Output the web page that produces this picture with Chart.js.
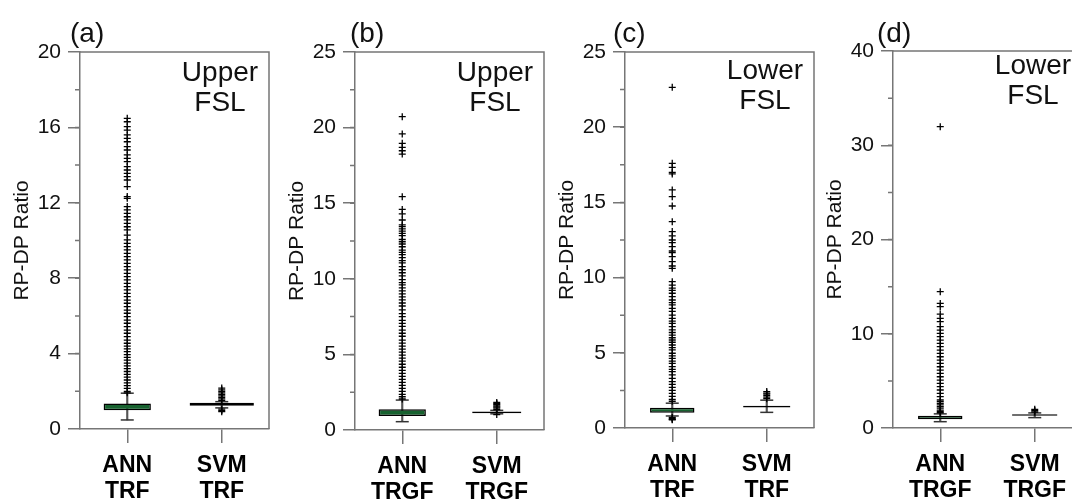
<!DOCTYPE html>
<html>
<head>
<meta charset="utf-8">
<script src="https://cdn.jsdelivr.net/npm/chart.js@4.4.0/dist/chart.umd.min.js"></script>
<style>
html, body { margin: 0; padding: 0; background: #fff; }
body { width: 1072px; height: 499px; overflow: hidden; position: relative; font-family: 'Liberation Sans', Arial, sans-serif; }
.panel { position: absolute; top: 0; width: 270px; height: 499px; }
.panel canvas { position: absolute; left: 0; top: 0; }
.tag { position: absolute; top: 18px; font-size: 28px; line-height: 30px; color: #111; }
.region { position: absolute; left: 160px; width: 120px; text-align: center; font-size: 28px; line-height: 30px; color: #111; }
</style>
</head>
<body>
<div id="panels"></div>
<script>
// panel texts
const panelTags = ['(a)', '(b)', '(c)', '(d)'];
const regionText = [['Upper', 'FSL'], ['Upper', 'FSL'], ['Lower', 'FSL'], ['Lower', 'FSL']];
const categories = [
    [['ANN', 'TRF'], ['SVM', 'TRF']],
    [['ANN', 'TRGF'], ['SVM', 'TRGF']],
    [['ANN', 'TRF'], ['SVM', 'TRF']],
    [['ANN', 'TRGF'], ['SVM', 'TRGF']]
];

// y axes
const yMax = [20, 25, 25, 40];
const yMajor = [4, 5, 5, 10];
const yMinor = [2, 2.5, 2.5, 5];

// boxes [ANN, SVM]
const boxLow = [[1.0, 1.24], [0.93, 1.1], [1.02, 1.36], [0.92, 1.3]];
const boxHigh = [[1.35, 1.39], [1.37, 1.22], [1.35, 1.48], [1.3, 1.46]];
const whiskerLow = [[0.48, 1.12], [0.55, 1.07], [0.8, 1.04], [0.67, 1.1]];
const whiskerHigh = [[1.9, 1.45], [1.98, 1.3], [1.65, 1.85], [1.5, 1.6]];

// outliers
const outA_ANN = [16.48, 16.3, 16.04, 15.86, 15.6, 15.42, 15.24, 14.98, 14.8, 14.54, 14.36, 14.18, 13.92, 13.74,
    13.56, 13.39, 13.21, 12.86, 12.33, 12.24, 11.8, 11.62, 11.44, 11.26, 11.09, 10.91, 10.73, 10.56, 10.29, 10.03,
    9.85, 9.67, 9.5, 9.32, 9.14, 8.97, 8.79, 8.61, 8.44, 8.26, 8.08, 7.91, 7.73, 7.55, 7.38, 7.2, 7.02, 6.84, 6.67,
    6.49, 6.31, 6.14, 5.96, 5.78, 5.61, 5.43, 5.25, 5.08, 4.9, 4.72, 4.55, 4.4, 4.25, 4.1, 3.95, 3.8, 3.65, 3.5,
    3.35, 3.2, 3.05, 2.9, 2.75, 2.6, 2.45, 2.3, 2.15, 2.0, 1.92];
const outA_SVM = [1.52, 1.6, 1.68, 1.76, 1.84, 1.92, 2.0, 2.08, 2.17, 1.05, 0.98, 0.92];
const outB_ANN = [20.72, 19.58, 18.96, 18.69, 18.47, 18.25, 15.43, 14.59, 14.29, 13.89, 13.56, 13.45, 13.3, 13.15,
    13.0, 12.85, 12.6, 12.45, 12.3, 12.12, 11.9, 11.75, 11.6, 11.4, 11.2, 11.05, 10.8, 10.6, 10.4, 10.2, 9.95, 9.75,
    9.6, 9.4, 9.2, 9.0, 8.8, 8.6, 8.4, 8.2, 7.95, 7.7, 7.5, 7.25, 7.05, 6.85, 6.6, 6.4, 6.2, 5.95, 5.75, 5.55, 5.35,
    5.15, 4.95, 4.75, 4.55, 4.35, 4.15, 3.95, 3.75, 3.55, 3.35, 3.15, 2.95, 2.75, 2.55, 2.35, 2.2, 2.05];
const outB_SVM = [1.35, 1.45, 1.52, 1.6, 1.68, 1.75, 1.82, 1.02];
const outC_ANN = [22.65, 17.6, 17.33, 17.0, 16.89, 15.83, 15.38, 14.76, 13.72, 13.06, 12.77, 12.5, 12.33, 12.06,
    11.77, 11.66, 11.39, 11.06, 10.77, 10.62, 9.73, 9.5, 9.3, 9.15, 8.96, 8.73, 8.51, 8.34, 8.18, 7.96, 7.75, 7.5,
    7.29, 7.1, 6.96, 6.74, 6.52, 6.35, 6.18, 6.0, 5.85, 5.7, 5.52, 5.35, 5.19, 4.97, 4.8, 4.63, 4.45, 4.3, 4.08, 3.9,
    3.75, 3.53, 3.3, 3.08, 2.9, 2.7, 2.5, 2.3, 2.1, 1.9, 1.78, 0.7, 0.64, 0.58, 0.55];
const outC_SVM = [1.95, 2.05, 2.15, 2.25, 2.32, 2.42];
const outD_ANN = [31.97, 14.46, 13.22, 12.87, 12.09, 11.63, 11.28, 10.75, 10.39, 10.04, 9.69, 9.33, 8.98, 8.63,
    8.27, 7.92, 7.56, 7.21, 6.86, 6.5, 6.15, 5.8, 5.44, 5.09, 4.73, 4.38, 4.03, 3.67, 3.32, 2.97, 2.8, 2.61, 2.45,
    2.26, 2.1, 1.9, 1.75, 1.62];
const outD_SVM = [1.7, 1.85, 1.98];
const outliersANN = [outA_ANN, outB_ANN, outC_ANN, outD_ANN];
const outliersSVM = [outA_SVM, outB_SVM, outC_SVM, outD_SVM];

// layout
const panelLeft = [0, 275, 545, 813];
const plotTop = [52, 52, 52, 51];
const plotBottom = [429, 430, 428, 428];
const tagLeft = [70, 75, 68, 64];
const regionTop = [57, 57, 55, 50];
const boxWidth = [[0.5, 0.68], [0.5, 0.52], [0.47, 0.5], [0.47, 0.48]];

const GRAY = '#767676';
const GREEN = '#17622f';

Chart.defaults.font.family = "'Liberation Sans', Arial, sans-serif";

const framePlugin = {
    id: 'frame',
    afterDraw(chart, args, opts) {
        const ctx = chart.ctx;
        const a = chart.chartArea;
        const y = chart.scales.y;
        ctx.save();
        ctx.strokeStyle = GRAY;
        ctx.lineWidth = 1.5;
        ctx.beginPath();
        ctx.moveTo(a.left, a.top);
        ctx.lineTo(a.right, a.top);
        ctx.lineTo(a.right, a.bottom);
        for (let v = opts.minor; v < y.max; v += opts.minor) {
            const py = y.getPixelForValue(v);
            ctx.moveTo(a.left - 5, py);
            ctx.lineTo(a.left, py);
        }
        ctx.stroke();
        ctx.restore();
    }
};

const holder = document.getElementById('panels');

for (let i = 0; i < 4; i++) {
    const panel = document.createElement('div');
    panel.className = 'panel';
    panel.style.left = panelLeft[i] + 'px';
    panel.innerHTML = '<canvas width="270" height="499"></canvas>' +
        '<div class="tag" style="left:' + tagLeft[i] + 'px">' + panelTags[i] + '</div>' +
        '<div class="region" style="top:' + regionTop[i] + 'px">' + regionText[i].join('<br>') + '</div>';
    holder.appendChild(panel);

    const caps = [
        {x: 0, y: whiskerLow[i][0]}, {x: 0, y: whiskerHigh[i][0]},
        {x: 1, y: whiskerLow[i][1]}, {x: 1, y: whiskerHigh[i][1]}
    ];

    new Chart(panel.querySelector('canvas'), {
        type: 'bar',
        data: {
            labels: categories[i],
            datasets: [
                {
                    data: [[whiskerLow[i][0], whiskerHigh[i][0]], [whiskerLow[i][1], whiskerHigh[i][1]]],
                    backgroundColor: '#555',
                    barThickness: 1.5,
                    grouped: false,
                    order: 3
                },
                {
                    data: [[boxLow[i][0], boxHigh[i][0]], null],
                    backgroundColor: GREEN,
                    borderColor: '#000',
                    borderWidth: 1.5,
                    borderSkipped: false,
                    grouped: false,
                    categoryPercentage: 1,
                    barPercentage: boxWidth[i][0],
                    order: 2
                },
                {
                    data: [null, [boxLow[i][1], boxHigh[i][1]]],
                    backgroundColor: GREEN,
                    borderColor: '#000',
                    borderWidth: 1.5,
                    borderSkipped: false,
                    grouped: false,
                    categoryPercentage: 1,
                    barPercentage: boxWidth[i][1],
                    order: 2
                },
                {
                    type: 'line',
                    xAxisID: 'xv',
                    data: caps,
                    showLine: false,
                    pointStyle: 'line',
                    pointRadius: 6.5,
                    pointBorderColor: '#333',
                    pointBorderWidth: 1.5,
                    order: 1
                },
                {
                    type: 'line',
                    xAxisID: 'xv',
                    data: outliersANN[i].map(v => ({x: 0, y: v})),
                    showLine: false,
                    pointStyle: 'cross',
                    pointRadius: 3.5,
                    pointBorderColor: '#000',
                    pointBorderWidth: 1.3,
                    order: 0
                },
                {
                    type: 'line',
                    xAxisID: 'xv',
                    data: outliersSVM[i].map(v => ({x: 1, y: v})),
                    showLine: false,
                    pointStyle: 'cross',
                    pointRadius: 3.5,
                    pointBorderColor: '#000',
                    pointBorderWidth: 1.3,
                    order: 0
                }
            ]
        },
        options: {
            responsive: false,
            animation: false,
            layout: { autoPadding: false, padding: { top: plotTop[i], right: 1, left: 0, bottom: 0 } },
            plugins: {
                legend: { display: false },
                tooltip: { enabled: false },
                frame: { minor: yMinor[i] }
            },
            scales: {
                x: {
                    ticks: { color: '#000', font: { size: 23, weight: 'bold', lineHeight: 1.13 }, padding: 10, maxRotation: 0, autoSkip: false },
                    grid: { offset: false, drawOnChartArea: false, tickLength: 14, color: GRAY, lineWidth: 1.5 },
                    border: { color: GRAY, width: 1.5 },
                    afterFit(s) {
                        s.height = 499 - plotBottom[i];
                        s.paddingLeft = 0;
                        s.paddingRight = 0;
                    }
                },
                xv: { type: 'linear', display: false, offset: false, min: -0.5, max: 1.5 },
                y: {
                    min: 0,
                    max: yMax[i],
                    ticks: { stepSize: yMajor[i], color: '#111', font: { size: 21 }, padding: 7 },
                    grid: { drawOnChartArea: false, tickLength: 12, color: GRAY, lineWidth: 1.5 },
                    border: { color: GRAY, width: 1.5 },
                    title: { display: true, text: 'RP-DP Ratio', color: '#111', font: { size: 21 }, padding: { top: 10, bottom: 0 } },
                    afterFit(s) { s.width = 80; }
                }
            }
        },
        plugins: [framePlugin]
    });
}
</script>
</body>
</html>
